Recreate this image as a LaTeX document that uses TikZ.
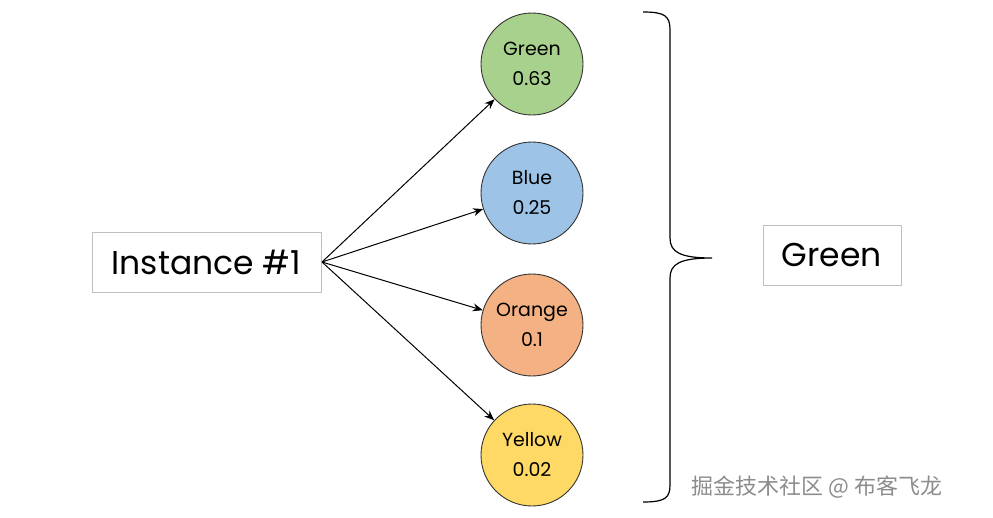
\documentclass[tikz,border=0pt]{standalone}
\usepackage{fontspec}
\setmainfont{Poppins}
\newfontfamily\cjk{Noto Sans CJK SC}
\usetikzlibrary{arrows.meta}
\definecolor{cg}{HTML}{A9D18E}
\definecolor{cb}{HTML}{9DC3E6}
\definecolor{co}{HTML}{F4B183}
\definecolor{cy}{HTML}{FFD966}
\begin{document}
\begin{tikzpicture}[x=1pt,y=-1pt,
  cls/.style={circle,draw=black!80,line width=0.9pt,minimum size=102pt,inner sep=0pt,align=center,font=\fontsize{19}{30}\selectfont},
  lbl/.style={draw=black!25,line width=1pt,inner sep=0pt,font=\fontsize{33}{36}\selectfont},
  arr/.style={-{Stealth[length=10pt,width=8pt]},line width=1pt}]
\useasboundingbox (0,0) rectangle (993,517);
\node[lbl,minimum width=229pt,minimum height=60pt] (inst) at (206.5,262) {Instance \#1};
\node[cls,fill=cg] (g) at (532,64) {Green\\0.63};
\node[cls,fill=cb] (b) at (532,193) {Blue\\0.25};
\node[cls,fill=co] (o) at (532,325) {Orange\\0.1};
\node[cls,fill=cy] (y) at (532,455) {Yellow\\0.02};
\coordinate (s) at (322,262);
\draw[arr] (s) -- (g);
\draw[arr] (s) -- (b);
\draw[arr] (s) -- (o);
\draw[arr] (s) -- (y);
\node[lbl,minimum width=138pt,minimum height=60pt] (res) at (832,255) {Green};
\draw[line width=1.2pt] (643,12) .. controls (665,12) and (670,16) .. (670,30) -- (670,238)
  .. controls (670,252) and (680,258) .. (712,258)
  .. controls (680,258) and (670,264) .. (670,278) -- (670,485)
  .. controls (670,498) and (665,502) .. (643,502);
\node[anchor=west,text=black!45,font=\cjk\fontsize{22}{24}\selectfont] (wm) at (688,487) {掘金技术社区 @ 布客飞龙};
\end{tikzpicture}
\end{document}
